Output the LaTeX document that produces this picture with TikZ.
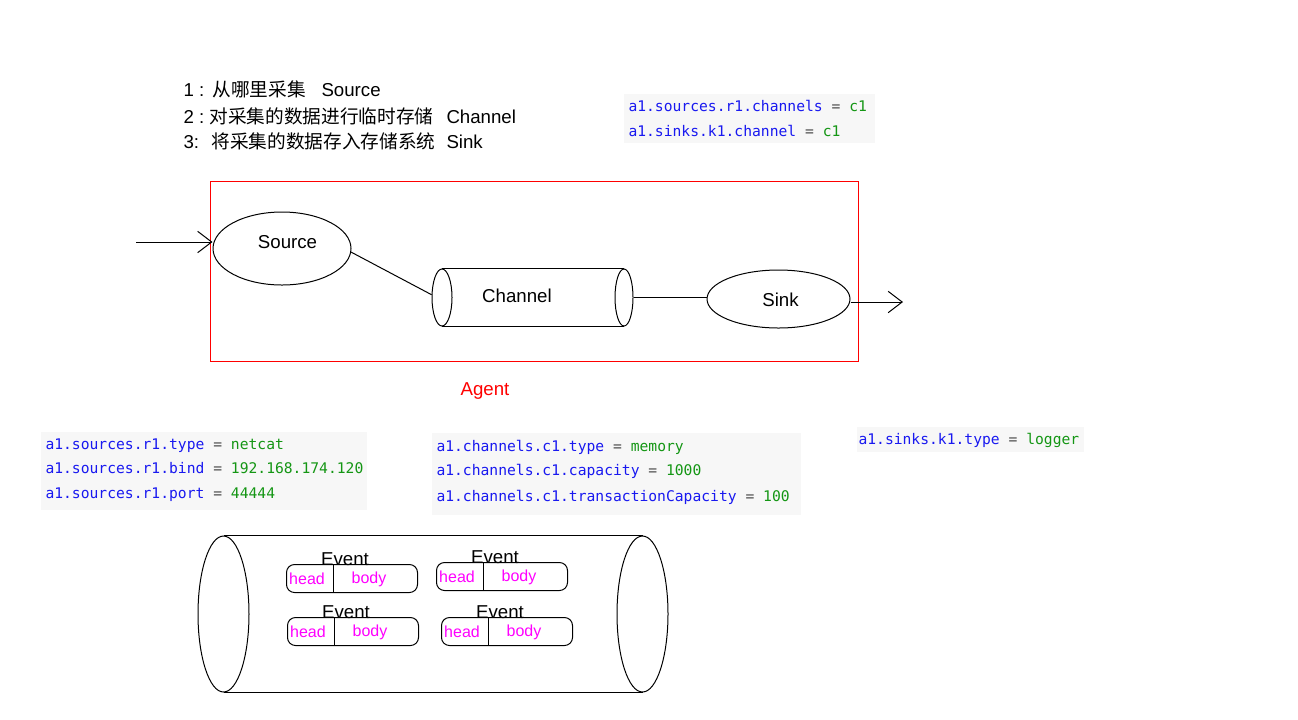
\documentclass[tikz,border=0pt]{standalone}
\usepackage{fontspec}
\setmainfont{Liberation Sans}
\newfontfamily\cjk{Noto Sans CJK SC}
\newfontfamily\codefont{DejaVu Sans Mono}
\usetikzlibrary{shapes.geometric,arrows.meta}
\definecolor{keyc}{RGB}{25,25,240}
\definecolor{eqc}{RGB}{80,80,80}
\definecolor{valc}{RGB}{20,150,20}
\definecolor{codebg}{RGB}{247,247,247}
\definecolor{mag}{RGB}{255,0,255}
\newcommand\kv[2]{\textcolor{keyc}{#1} \textcolor{eqc}{=} \textcolor{valc}{#2}}
\newcommand\myevent[3]{%
  \node[evbox] (#1) at (#2,#3) {};
  \draw ([xshift=35.25pt]#1.north west) -- ([xshift=35.25pt]#1.south west);
  \node[hb] (#1h) at ([xshift=15.75pt,yshift=-15.4pt]#1.north west) {head};
  \node[hb] (#1b) at ([xshift=62.25pt,yshift=-14.6pt]#1.north west) {body};
  \node[evlbl] (#1l) at ([xshift=44.25pt,yshift=-0.75pt]#1.north west) {Event};
}
\begin{document}
\begin{tikzpicture}[x=0.75pt,y=-0.75pt,line width=0.75pt,
  txt/.style={inner sep=0pt, font=\fontsize{14}{16}\selectfont},
  code/.style={inner sep=0pt, anchor=base west, font=\codefont\fontsize{11}{13}\selectfont},
  bg/.style={fill=codebg, draw=none},
  ell/.style={ellipse, draw, inner sep=0pt},
  barb/.style={-{Straight Barb[length=10.5pt,width=16pt]}},
  evbox/.style={draw, rounded corners=6pt, inner sep=0pt, minimum width=98.25pt, minimum height=21pt, anchor=north west},
  evlbl/.style={inner sep=0pt, anchor=base, font=\fontsize{14}{16}\selectfont},
  hb/.style={inner sep=0pt, anchor=base, text=mag, font=\fontsize{12}{14}\selectfont},
]
\useasboundingbox[fill=white] (0,0) rectangle (1298,719);

% top description
\node[txt, anchor=base west] (n1) at (183,96.7) {1 :};
\node[txt, anchor=base west] (c1) at (212,96.7) {\cjk 从哪里采集};
\node[txt, anchor=base west] (l1) at (321,96.7) {Source};
\node[txt, anchor=base west] (n2) at (183,123.3) {2 :};
\node[txt, anchor=base west] (c2) at (209,123.3) {\cjk 对采集的数据进行临时存储};
\node[txt, anchor=base west] (l2) at (446,123.3) {Channel};
\node[txt, anchor=base west] (n3) at (183,148.3) {3:};
\node[txt, anchor=base west] (c3) at (211,148.3) {\cjk 将采集的数据存入存储系统};
\node[txt, anchor=base west] (l3) at (446,148.3) {Sink};

% code boxes
\fill[bg] (624,94) rectangle (875,143);
\node[code] (k1) at (628,111.7) {\kv{a1.sources.r1.channels}{c1}};
\node[code] (k2) at (628,136) {\kv{a1.sinks.k1.channel}{c1}};

\fill[bg] (41,432) rectangle (367,510);
\node[code] (s1) at (45,449) {\kv{a1.sources.r1.type}{netcat}};
\node[code] (s2) at (45,473.3) {\kv{a1.sources.r1.bind}{192.168.174.120}};
\node[code] (s3) at (45,498.3) {\kv{a1.sources.r1.port}{44444}};

\fill[bg] (432,433) rectangle (801,515);
\node[code] (h1) at (436,451.7) {\kv{a1.channels.c1.type}{memory}};
\node[code] (h2) at (436,475.7) {\kv{a1.channels.c1.capacity}{1000}};
\node[code] (h3) at (436,501) {\kv{a1.channels.c1.transactionCapacity}{100}};

\fill[bg] (857,427) rectangle (1084,452);
\node[code] (t1) at (858,444) {\kv{a1.sinks.k1.type}{logger}};

% agent
\draw[red] (210,181) rectangle (858,361);
\node[txt, anchor=base, text=red] (agent) at (485,395) {Agent};

\node[ell, minimum width=103.5pt, minimum height=54.75pt] (src) at (282,248.5) {};
\node[txt] (srcT) at (287.5,242.5) {Source};
\node[ell, minimum width=15pt, minimum height=42.75pt] (chL) at (442,297.5) {};
\node[ell, minimum width=13.5pt, minimum height=42.75pt] (chR) at (624,297.5) {};
\draw (chL.north) -- (chR.north);
\draw (chL.south) -- (chR.south);
\node[txt] (chT) at (517,295.5) {Channel};
\node[ell, minimum width=107.25pt, minimum height=43.5pt] (sink) at (778.5,299) {};
\node[txt] (sinkT) at (780.5,299.7) {Sink};

\coordinate (in) at (136,242);
\coordinate (out) at (903,302);
\draw[barb] (in) -- (in -| src.west);
\draw (src.-3) -- (chL.165);
\draw (chR.east) -- (chR.east -| sink.west);
\draw[barb] (out -| sink.east) -- (out);

% big channel with events
\node[ell, minimum width=38.25pt, minimum height=117pt] (bigL) at (223.5,614) {};
\node[ell, minimum width=38.25pt, minimum height=117pt] (bigR) at (642.5,614) {};
\draw (bigL.north) -- (bigR.north);
\draw (bigL.south) -- (bigR.south);

\myevent{ea}{286}{564}
\myevent{eb}{287}{617}
\myevent{ec}{436}{562}
\myevent{ed}{441}{617}
\end{tikzpicture}
\end{document}
